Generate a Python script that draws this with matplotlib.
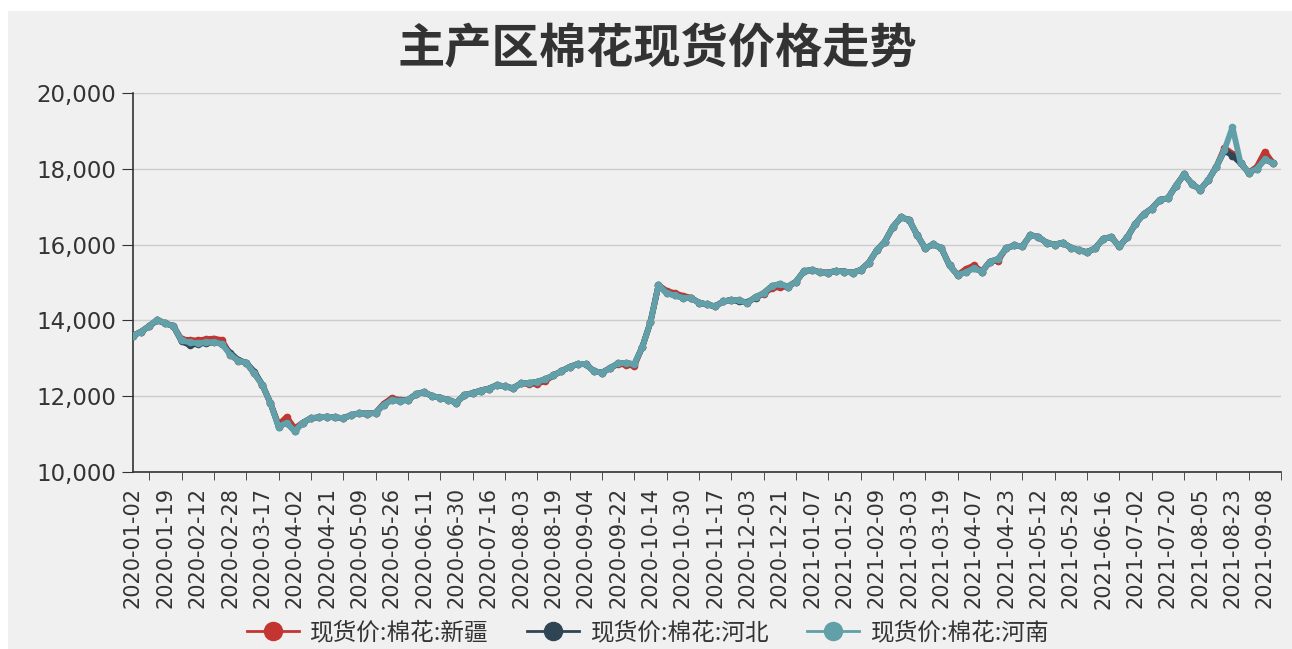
import numpy as np
import matplotlib
matplotlib.use('Agg')
import matplotlib.pyplot as plt
from matplotlib.patches import Rectangle
from matplotlib.lines import Line2D
from matplotlib.ticker import FuncFormatter

plt.rcParams['font.family'] = ['Noto Sans CJK SC', 'DejaVu Sans']

# category labels shown every 12 working days
tick_labels = [
    '2020-01-02', '2020-01-19', '2020-02-12', '2020-02-28', '2020-03-17', '2020-04-02',
    '2020-04-21', '2020-05-09', '2020-05-26', '2020-06-11', '2020-06-30', '2020-07-16',
    '2020-08-03', '2020-08-19', '2020-09-04', '2020-09-22', '2020-10-14', '2020-10-30',
    '2020-11-17', '2020-12-03', '2020-12-21', '2021-01-07', '2021-01-25', '2021-02-09',
    '2021-03-03', '2021-03-19', '2021-04-07', '2021-04-23', '2021-05-12', '2021-05-28',
    '2021-06-16', '2021-07-02', '2021-07-20', '2021-08-05', '2021-08-23', '2021-09-08',
]
label_every = 12
step = 3  # one reading every 3 working days

xinjiang = [
    13600, 13700, 13850, 14020, 13920, 13850, 13500, 13480, 13470, 13500, 13520, 13480,
    13100, 12940, 12880, 12600, 12300, 11820, 11250, 11450, 11150, 11300, 11420, 11440,
    11460, 11440, 11420, 11500, 11550, 11540, 11560, 11800, 11950, 11900, 11900, 12050,
    12110, 12000, 11960, 11900, 11830, 12030, 12080, 12150, 12200, 12290, 12260, 12210,
    12340, 12320, 12330, 12400, 12550, 12660, 12770, 12850, 12850, 12660, 12620, 12740,
    12850, 12830, 12800, 13300, 13950, 14930, 14780, 14720, 14650, 14600, 14470, 14420,
    14370, 14500, 14540, 14530, 14460, 14620, 14700, 14850, 14880, 14890, 15020, 15300,
    15330, 15270, 15260, 15310, 15290, 15260, 15330, 15520, 15850, 16080, 16470, 16720,
    16650, 16250, 15900, 16010, 15900, 15450, 15200, 15350, 15450, 15290, 15550, 15580,
    15900, 15980, 15950, 16250, 16200, 16050, 16000, 16050, 15920, 15850, 15800, 15900,
    16150, 16200, 15950, 16200, 16550, 16800, 16950, 17180, 17220, 17550, 17850, 17600,
    17450, 17700, 18050, 18550, 18400, 18150, 17900, 18050, 18450, 18150,
]
hebei = [
    13600, 13700, 13850, 14000, 13920, 13850, 13450, 13350, 13380, 13400, 13420, 13380,
    13150, 12960, 12880, 12650, 12300, 11820, 11200, 11300, 11080, 11300, 11420, 11440,
    11460, 11440, 11420, 11500, 11550, 11540, 11560, 11770, 11900, 11880, 11900, 12050,
    12110, 12000, 11960, 11900, 11830, 12030, 12080, 12150, 12200, 12290, 12260, 12210,
    12340, 12350, 12380, 12450, 12550, 12660, 12770, 12850, 12850, 12660, 12620, 12740,
    12870, 12880, 12840, 13300, 13950, 14930, 14720, 14660, 14600, 14590, 14470, 14420,
    14370, 14500, 14540, 14500, 14480, 14600, 14720, 14900, 14960, 14890, 15020, 15300,
    15330, 15270, 15260, 15310, 15290, 15260, 15330, 15520, 15850, 16080, 16470, 16720,
    16650, 16250, 15900, 16010, 15900, 15450, 15200, 15270, 15380, 15290, 15550, 15620,
    15900, 15980, 15950, 16250, 16200, 16050, 16000, 16050, 15920, 15850, 15800, 15900,
    16150, 16200, 15950, 16200, 16550, 16800, 16950, 17180, 17220, 17550, 17850, 17600,
    17450, 17700, 18050, 18480, 18350, 18150, 17900, 18000, 18250, 18150,
]
henan = [
    13600, 13700, 13850, 14020, 13920, 13850, 13470, 13420, 13400, 13420, 13430, 13380,
    13100, 12940, 12880, 12600, 12300, 11820, 11200, 11300, 11080, 11300, 11420, 11440,
    11460, 11440, 11420, 11500, 11550, 11540, 11560, 11770, 11900, 11880, 11900, 12050,
    12110, 12000, 11960, 11900, 11830, 12030, 12080, 12150, 12200, 12290, 12260, 12210,
    12340, 12350, 12380, 12450, 12550, 12660, 12770, 12850, 12850, 12660, 12620, 12740,
    12870, 12880, 12840, 13300, 13950, 14930, 14720, 14660, 14600, 14590, 14470, 14420,
    14370, 14500, 14540, 14530, 14460, 14620, 14720, 14900, 14960, 14890, 15020, 15300,
    15330, 15270, 15260, 15310, 15290, 15260, 15330, 15520, 15850, 16080, 16470, 16720,
    16650, 16250, 15900, 16010, 15900, 15450, 15200, 15270, 15380, 15290, 15550, 15620,
    15900, 15980, 15950, 16250, 16200, 16050, 16000, 16050, 15920, 15850, 15800, 15900,
    16150, 16200, 15950, 16200, 16550, 16800, 16950, 17180, 17220, 17550, 17850, 17600,
    17450, 17700, 18050, 18500, 19100, 18150, 17900, 18000, 18250, 18150,
]

series = [
    ('现货价:棉花:新疆', xinjiang, '#c23531'),
    ('现货价:棉花:河北', hebei, '#2f4554'),
    ('现货价:棉花:河南', henan, '#61a0a8'),
]

W, H = 1292, 649
fig = plt.figure(figsize=(W / 100, H / 100), dpi=100)
fig.patch.set_facecolor('white')
fig.patches.append(Rectangle((8 / W, 0), 1, 1 - 11 / H, transform=fig.transFigure,
                             facecolor='#f0f0f0', edgecolor='none', zorder=-10))

ax = fig.add_axes([133 / W, 1 - 472 / H, (1281 - 133) / W, (472 - 93) / H])
ax.set_facecolor('none')

x = np.arange(len(henan)) * step
handles = []
for name, vals, c in series:
    ax.plot(x, vals, color=c, lw=4.2, marker='o', ms=5.5, mew=0,
            solid_joinstyle='round', solid_capstyle='round', zorder=3)
    handles.append(Line2D([], [], color=c, lw=2, marker='o', ms=13, label=name))

ax.set_xlim(0, 424.5)
ax.set_ylim(10000, 20000)
ax.set_yticks(range(10000, 20001, 2000))
ax.yaxis.set_major_formatter(FuncFormatter(lambda v, p: f'{int(v):,}'))
ax.grid(axis='y', color='#cccccc', lw=1)
ax.set_axisbelow(True)

major = np.arange(len(tick_labels)) * label_every
ax.set_xticks(major)
ax.set_xticklabels(tick_labels, rotation=90, fontsize=15, family='DejaVu Sans', color='#333333')
ax.set_xticks(major + label_every / 2, minor=True)
ax.tick_params(axis='x', which='major', length=0, pad=11)
ax.tick_params(axis='x', which='minor', length=6, color='#333333')
ax.tick_params(axis='y', length=8, pad=4, color='#333333', labelsize=16.5, labelcolor='#333333')
for lab in ax.get_yticklabels():
    lab.set_family('DejaVu Sans')

for s in ['top', 'right']:
    ax.spines[s].set_visible(False)
for s in ['left', 'bottom']:
    ax.spines[s].set_color('#333333')
    ax.spines[s].set_linewidth(1.2)

fig.text(657 / W, 1 - 49 / H, '主产区棉花现货价格走势', ha='center', va='center',
         fontsize=34, fontweight='bold', color='#333333')

fig.legend(handles=handles, loc='center', bbox_to_anchor=(648 / W, 1 - 633 / H), ncol=3,
           frameon=False, fontsize=17, handlelength=2.2, handletextpad=0.5,
           columnspacing=1.6, labelcolor='#333333')

fig.savefig('out.png', dpi=100, facecolor=fig.get_facecolor())
